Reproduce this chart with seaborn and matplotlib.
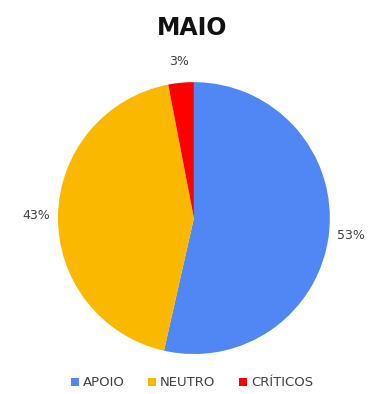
import matplotlib
matplotlib.use("Agg")
import matplotlib.pyplot as plt
import seaborn as sns
from matplotlib.patches import Patch

categories = ["APOIO", "NEUTRO", "CRÍTICOS"]
values = [53, 43, 3]
colors = ["#5087F5", "#FBB800", "#FF0000"]

sns.set_theme(style="white")
plt.rcParams['font.family'] = ['DejaVu Sans']

fig = plt.figure(figsize=(3.69, 3.94), dpi=100)
ax = fig.add_axes([0.157, 0.1015, 0.737, 0.690])

wedges, texts, autotexts = ax.pie(
    values, colors=colors, startangle=90, counterclock=False,
    autopct=lambda p: f"{round(p * sum(values) / 100):.0f}%",
    pctdistance=1.16, radius=1,
    wedgeprops=dict(linewidth=0),
    textprops=dict(fontsize=9, color="#404040"),
)
ax.set_xlim(-1, 1)
ax.set_ylim(-1, 1)
ax.set_aspect("equal")

fig.text(0.520, 0.928, "MAIO", ha="center", va="center", fontsize=17,
         fontweight="bold", color="#111111")

handles = [Patch(facecolor=c, edgecolor="none", label=l) for c, l in zip(colors, categories)]
fig.legend(handles=handles, loc="center", bbox_to_anchor=(0.52, 0.028), ncol=3,
           frameon=False, fontsize=9.5, handlelength=0.6, handleheight=0.6,
           handletextpad=0.3, columnspacing=1.8, labelcolor="#404040")

fig.savefig("out.png", dpi=100)
